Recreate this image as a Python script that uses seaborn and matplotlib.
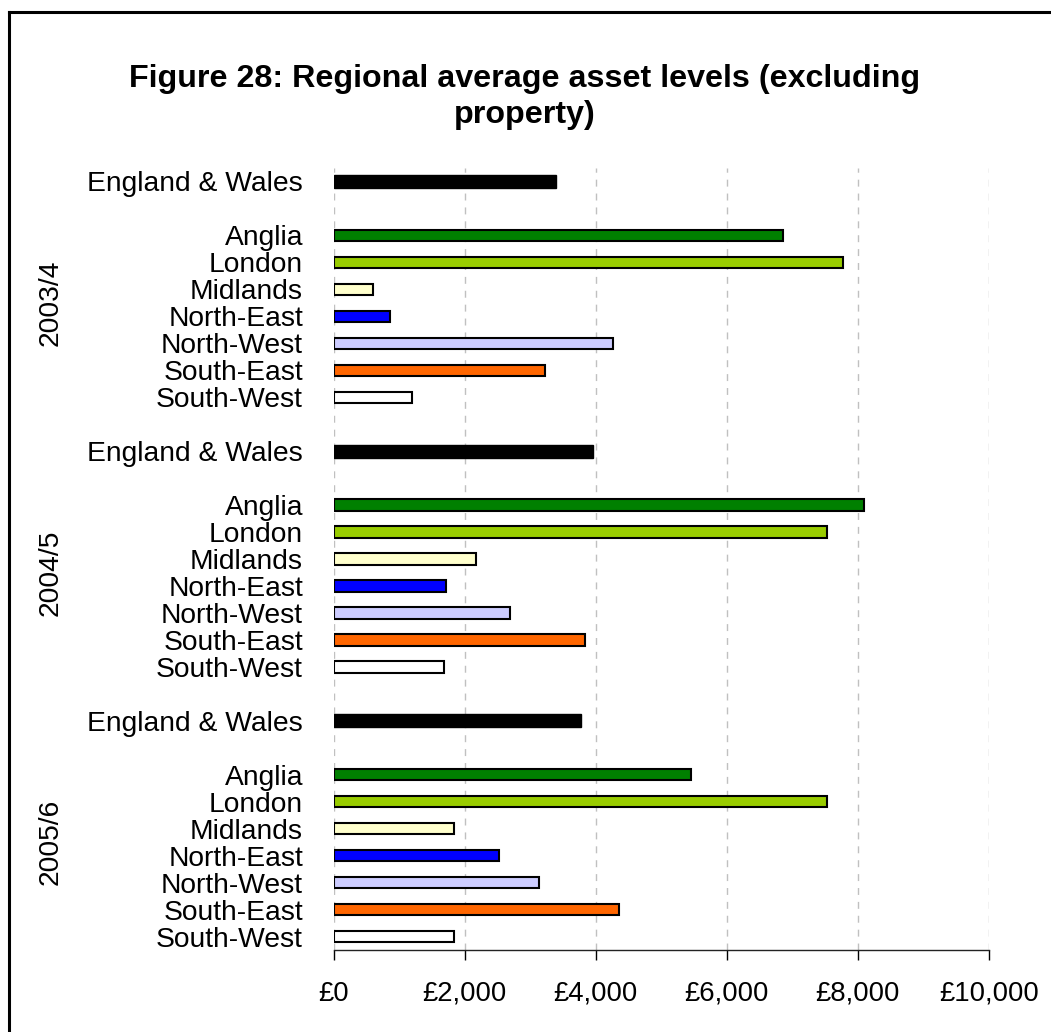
import matplotlib
matplotlib.use("Agg")
import matplotlib.pyplot as plt
import matplotlib.transforms as mtransforms
from matplotlib.lines import Line2D
from matplotlib.ticker import FuncFormatter
import numpy as np
import pandas as pd
import seaborn as sns

# ---- data -------------------------------------------------------------
years = ["2003/4", "2004/5", "2005/6"]
regions = ["Anglia", "London", "Midlands", "North-East",
           "North-West", "South-East", "South-West"]
national_label = "England & Wales"

national_avg = [3390, 3960, 3770]
anglia = [6850, 8100, 5460]
london = [7780, 7530, 7530]
midlands = [600, 2170, 1840]
north_east = [860, 1720, 2520]
north_west = [4270, 2700, 3140]
south_east = [3230, 3830, 4360]
south_west = [1190, 1690, 1840]

region_colors = ["#008000", "#99CC00", "#FFFFCC", "#0000FF",
                 "#CCCCFF", "#FF6600", "#FFFFFF"]
x_ticks = [0, 2000, 4000, 6000, 8000, 10000]

# ---- tidy tables --------------------------------------------------------
region_values = [anglia, london, midlands, north_east,
                 north_west, south_east, south_west]
GROUP = 10  # rows per year block: national, gap, 7 regions, gap

nat_rows, reg_rows = [], []
for g, year in enumerate(years):
    base = g * GROUP
    nat_rows.append({"year": year, "area": national_label,
                     "slot": base, "value": national_avg[g]})
    for r, name in enumerate(regions):
        reg_rows.append({"year": year, "area": name,
                         "slot": base + 2 + r, "value": region_values[r][g]})
nat_df = pd.DataFrame(nat_rows)
reg_df = pd.DataFrame(reg_rows)

# ---- figure -------------------------------------------------------------
sns.set_theme(style="white")
plt.rcParams["font.family"] = ["Liberation Sans", "DejaVu Sans"]

W, H = 1051, 1032
fig = plt.figure(figsize=(W / 100, H / 100), dpi=100)
ax = fig.add_axes([333.5 / W, 1 - 950 / H, (989 - 333.5) / W, (950 - 168) / H])

sns.barplot(data=reg_df, x="value", y="slot", hue="area", orient="h",
            native_scale=True, dodge=False, saturation=1,
            palette=dict(zip(regions, region_colors)),
            width=0.42, edgecolor="black", linewidth=1.5, legend=False, ax=ax)
sns.barplot(data=nat_df, x="value", y="slot", hue="area", orient="h",
            native_scale=True, dodge=False, saturation=1,
            palette={national_label: "#000000"},
            width=0.049, edgecolor="black", linewidth=1.0, legend=False, ax=ax)

ax.set_xlim(0, 10000)
ax.set_ylim(28.5, -0.5)

# vertical dashed gridlines
ax.set_xticks(x_ticks)
ax.xaxis.grid(True, color="#c0c0c0", linestyle=(0, (5, 5)), linewidth=1.0)
ax.yaxis.grid(False)
ax.set_axisbelow(True)
ax.xaxis.set_major_formatter(FuncFormatter(lambda v, _: f"£{int(v):,}"))

# category labels
slots = list(nat_df["slot"]) + list(reg_df["slot"])
labels = list(nat_df["area"]) + list(reg_df["area"])
ax.set_yticks(slots)
ax.set_yticklabels(labels)
ax.tick_params(axis="y", length=0, pad=22, labelsize=20.3, colors="black")
ax.tick_params(axis="x", length=7, width=1.0, direction="out", pad=15,
               labelsize=19.8, colors="black", bottom=True)
ax.set_xlabel("")
ax.set_ylabel("")

for side in ["top", "right", "left"]:
    ax.spines[side].set_visible(False)
ax.spines["bottom"].set_color("#222222")
ax.spines["bottom"].set_linewidth(1.0)

# year labels, rotated, centred on each block
trans = mtransforms.blended_transform_factory(fig.transFigure, ax.transData)
for g, year in enumerate(years):
    ax.text(51 / W, g * GROUP + 4.5, year, transform=trans, rotation=90,
            ha="center", va="center", fontsize=20.3, color="black")

# title
fig.text(525 / W, 1 - 97 / H,
         "Figure 28: Regional average asset levels (excluding\nproperty)",
         ha="center", va="center", fontsize=23.2, fontweight="bold",
         linespacing=1.3, color="black")

# frame around the chart area
fig.add_artist(Line2D([9 / W, 9 / W], [0, 1 - 12 / H], transform=fig.transFigure,
                      color="black", linewidth=2.2, solid_capstyle="projecting"))
fig.add_artist(Line2D([9 / W, 1], [1 - 12 / H, 1 - 12 / H], transform=fig.transFigure,
                      color="black", linewidth=2.2, solid_capstyle="projecting"))

fig.savefig("out.png", dpi=100, facecolor="white")
